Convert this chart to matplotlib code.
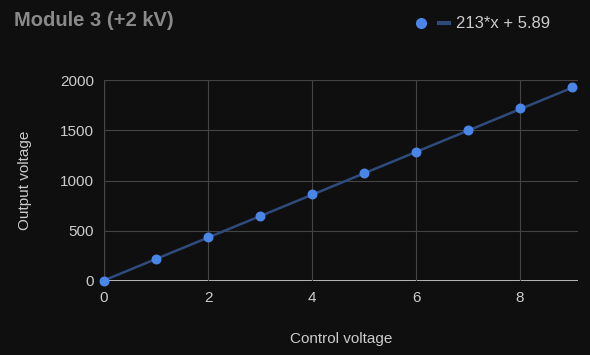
import matplotlib.pyplot as plt
from matplotlib.lines import Line2D

# 数据
control_v = [0, 1, 2, 3, 4, 5, 6, 7, 8, 9]
output_v = [0, 217, 433, 647, 862, 1072, 1283, 1503, 1717, 1930]
slope = 213
intercept = 5.89
x_ticks = [0, 2, 4, 6, 8]
y_ticks = [0, 500, 1000, 1500, 2000]

bg = '#0f0f0f'
plt.rcParams['font.family'] = ['Liberation Sans', 'DejaVu Sans']

fig = plt.figure(figsize=(5.9, 3.55), dpi=100, facecolor=bg)
ax = fig.add_axes([104 / 590, 1 - 281 / 355, 474 / 590, 201 / 355], facecolor=bg)

# 趋势线
xs = [0, 9]
ax.plot(xs, [slope * x + intercept for x in xs], color='#2f4b7c', lw=1.8, zorder=2)
ax.scatter(control_v, output_v, s=38, color='#4a86e8', zorder=3, clip_on=False)

ax.set_xlim(0, 9.115)
ax.set_ylim(0, 2000)
ax.set_xticks(x_ticks)
ax.set_yticks(y_ticks)
ax.grid(True, color='#444444', lw=0.8)
ax.axvline(0, color='#bbbbbb', lw=0.8, zorder=1)
ax.axhline(0, color='#dddddd', lw=1.2, zorder=1)
for s in ax.spines.values():
    s.set_visible(False)
ax.tick_params(length=0, colors='#cccccc', labelsize=11, pad=7)
ax.set_xlabel('Control voltage', color='#cccccc', fontsize=11, labelpad=20)
ax.set_ylabel('Output voltage', color='#cccccc', fontsize=11, labelpad=0)
ax.yaxis.set_label_coords(-72 / 474, 0.5)

fig.text(14 / 590, 1 - 20 / 355, 'Module 3 (+2 kV)', color='#8a8a8a',
         fontsize=14.5, fontweight='bold', va='center')

handles = [Line2D([], [], marker='o', ls='none', color='#4a86e8', ms=7),
           Line2D([], [], color='#2f4b7c', lw=3)]
leg = fig.legend(handles, ['', '213*x + 5.89'], loc='center left',
                 bbox_to_anchor=(401 / 590, 1 - 24 / 355), ncol=2, frameon=False,
                 handlelength=0.6, columnspacing=0.4, handletextpad=0.4,
                 fontsize=12)
for t in leg.get_texts():
    t.set_color('#cccccc')

fig.savefig('out.png', dpi=100, facecolor=bg)
